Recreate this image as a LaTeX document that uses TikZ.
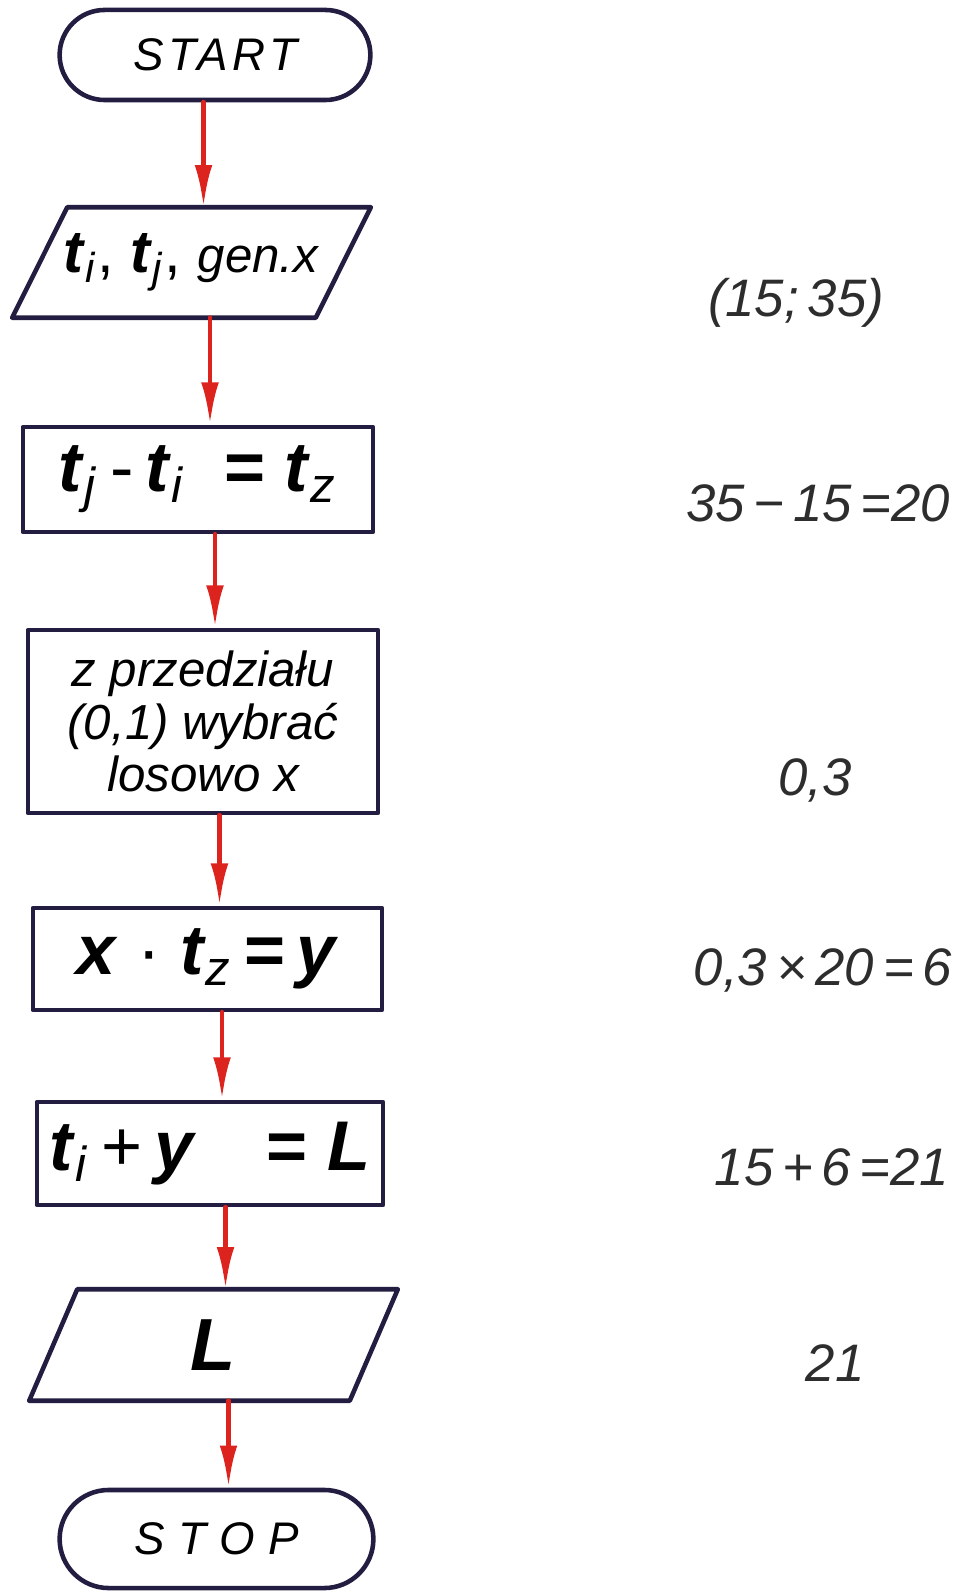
\documentclass[tikz,border=0pt]{standalone}
\usepackage{fontspec}
\setmainfont{Liberation Sans}
\usetikzlibrary{arrows.meta,calc,shapes.misc}

\definecolor{inkline}{RGB}{35,30,65}
\definecolor{flowred}{RGB}{220,35,30}
\definecolor{pencil}{RGB}{45,45,45}

\newcommand{\tvar}[1]{\textbf{\textit{t}}\textsubscript{\textit{#1}}}

\tikzset{
    outline/.style={draw=inkline, line width=1.3pt},
    box/.style={outline, rectangle, inner sep=2pt},
    terminal/.style={outline, rounded rectangle,
        minimum width=3.34cm, minimum height=0.9cm,
        font=\itshape\fontsize{13}{15}\selectfont},
    iobox/.style={rectangle, inner sep=2pt},
    flow/.style={flowred, line width=1.4pt, -{Latex[length=12pt,width=5pt]}},
    note/.style={font=\itshape\fontsize{15}{18}\selectfont, text=pencil}
}

\begin{document}
\begin{tikzpicture}[x=0.01cm, y=-0.01cm, line join=round, line cap=round]
    \useasboundingbox (0,0) rectangle (961,1592);

    % flowchart
    \node[terminal] (start) at (215,55) {\addfontfeatures{LetterSpace=10}START};
    \node[iobox, minimum width=3.57cm, minimum height=1.09cm] (input) at (191.5,262.5)
        {\fontsize{17}{20}\selectfont\tvar{i}, \tvar{j}, \textit{\fontsize{14}{17}\selectfont gen.x}};
    \node[box, minimum width=3.5cm, minimum height=1.05cm] (diff) at (198,479.5)
        {\fontsize{20}{24}\selectfont\tvar{j}\,-\,\tvar{i}\ \ \textbf{=}\ \tvar{z}\hspace{1.2em}};
    \node[box, minimum width=3.5cm, minimum height=1.83cm, align=center,
        font=\itshape\fontsize{14}{15}\selectfont] (draw) at (203,721.5)
        {z przedziału\\(0,1) wybrać\\losowo x};
    \node[box, minimum width=3.49cm, minimum height=1.02cm] (prod) at (207.5,959)
        {\fontsize{20}{24}\selectfont\textbf{\textit{x}} · \tvar{z}\,\textbf{=}\,\textbf{\textit{y}}\hspace{1.5em}};
    \node[box, minimum width=3.46cm, minimum height=1.03cm] (sum) at (210,1153.5)
        {\fontsize{20}{24}\selectfont\tvar{i}\,+\,\textbf{\textit{y}}\quad\textbf{=}\ \textbf{\textit{L}}\hspace{1em}};
    \node[iobox, minimum width=3.67cm, minimum height=1.1cm] (output) at (213.5,1345)
        {\fontsize{21}{24}\selectfont\textbf{\textit{L}}};
    \node[terminal, minimum width=3.37cm, minimum height=0.98cm] (stop) at (216.5,1539)
        {\addfontfeatures{LetterSpace=30}STOP};

    % slanted input/output boxes
    \draw[outline] ([xshift=0.55cm]input.north west) -- (input.north east)
        -- ([xshift=-0.55cm]input.south east) -- (input.south west) -- cycle;
    \draw[outline] ([xshift=0.48cm]output.north west) -- (output.north east)
        -- ([xshift=-0.48cm]output.south east) -- (output.south west) -- cycle;

    % arrows run straight down, a little right of the box centres
    \foreach \a/\b in {start/input, input/diff, diff/draw, draw/prod,
                       prod/sum, sum/output, output/stop}
    {
        \draw[flow] ($(\b.north |- \a.south)+(12,0)$) -- ($(\b.north)+(12,0)$);
    }

    % worked example
    \foreach \x/\y/\txt/\name in {
        796/303/{(15;\,35)}/ex1,
        818/503/{35\,−\,15\,=20}/ex2,
        815/780/{0,3}/ex3,
        823/970/{0,3\,×\,20\,=\,6}/ex4,
        832/1167/{15\,+\,6\,=21}/ex5,
        835/1363/{21}/ex6}
    {
        \node[note] (\name) at (\x,\y) {\txt};
    }
\end{tikzpicture}
\end{document}
